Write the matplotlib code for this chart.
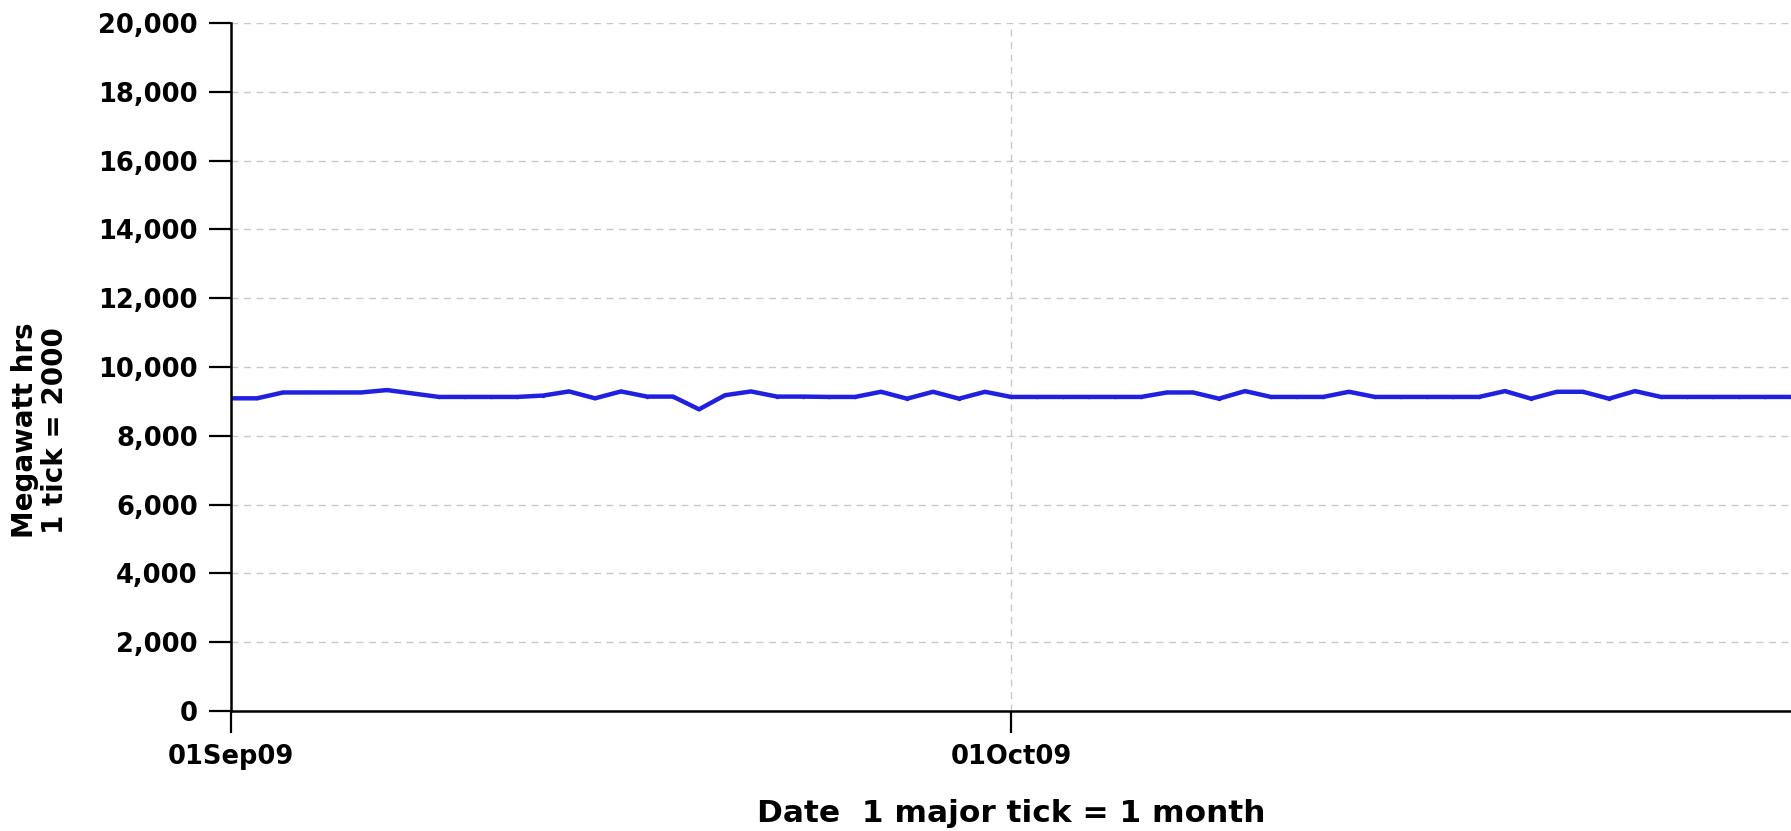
import datetime as dt
import matplotlib
matplotlib.use("Agg")
import matplotlib.pyplot as plt
import matplotlib.dates as mdates
from matplotlib.ticker import MultipleLocator, FuncFormatter

# daily energy output, 01Sep09 .. 31Oct09 (MWh)
start = dt.date(2009, 9, 1)
mwh = [
    9090, 9090, 9260, 9260, 9260, 9260, 9330, 9230, 9130, 9130,
    9130, 9130, 9170, 9290, 9090, 9290, 9140, 9140, 8770, 9180,
    9290, 9140, 9140, 9130, 9130, 9280, 9080, 9280, 9080, 9280,
    9130, 9130, 9130, 9130, 9130, 9130, 9260, 9260, 9080, 9300,
    9130, 9130, 9130, 9280, 9130, 9130, 9130, 9130, 9130, 9300,
    9080, 9280, 9280, 9080, 9300, 9130, 9130, 9130, 9130, 9130,
    9130,
]
dates = [start + dt.timedelta(days=i) for i in range(len(mwh))]

month_ticks = [dt.date(2009, 9, 1), dt.date(2009, 10, 1)]
y_max = 20000
y_step = 2000

plt.rcParams['font.family'] = ['DejaVu Sans']
plt.rcParams['font.weight'] = 'bold'

fig = plt.figure(figsize=(17.91, 8.31), dpi=100, facecolor='w')
ax = fig.add_axes([0.129, 0.1444, 0.871, 0.8279])

ax.plot(dates, mwh, color='#2020e0', lw=3.2, marker='.', ms=3,
        solid_joinstyle='round')

ax.set_xlim(dates[0], dates[-1] + dt.timedelta(hours=4))
ax.set_ylim(0, y_max)

ax.yaxis.set_major_locator(MultipleLocator(y_step))
ax.yaxis.set_major_formatter(FuncFormatter(lambda v, p: f'{int(v):,}'))
ax.set_xticks(month_ticks)
ax.xaxis.set_major_formatter(mdates.DateFormatter('%d%b%y'))

ax.grid(True, which='major', color='#c8c8c8', lw=1.0, ls=(0, (5, 4)))
ax.set_axisbelow(True)

for s in ('top', 'right'):
    ax.spines[s].set_visible(False)
for s in ('left', 'bottom'):
    ax.spines[s].set_linewidth(1.8)

ax.tick_params(axis='both', length=16, width=1.6, labelsize=18.5, pad=8)
for lab in ax.get_xticklabels() + ax.get_yticklabels():
    lab.set_fontweight('bold')

ax.set_ylabel('Megawatt hrs\n1 tick = 2000', fontsize=20, fontweight='bold',
              linespacing=1.1)
ax.yaxis.set_label_coords(-0.104, 0.408)
ax.set_xlabel('Date  1 major tick = 1 month', fontsize=22.5, fontweight='bold')
ax.xaxis.set_label_coords(0.5, -0.128)

fig.savefig('out.png', dpi=100)
